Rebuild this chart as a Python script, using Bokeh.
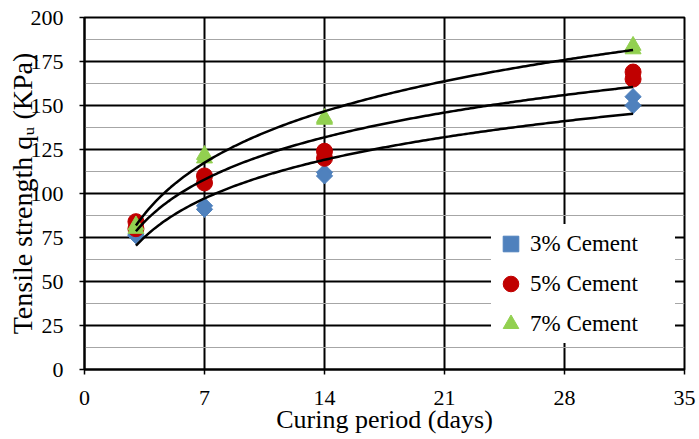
import numpy as np
from bokeh.plotting import figure
from bokeh.models import ColumnDataSource, Legend, LegendItem, FixedTicker
from bokeh.embed import file_html
from bokeh.resources import INLINE

# Data
days = [3, 3, 7, 7, 14, 14, 32, 32]
cement3 = [76, 77, 93, 91, 112, 110, 155, 150]
cement5 = [84, 80, 110, 106, 124, 120, 169, 165]
cement7 = [80, 82, 122, 120, 143, 142, 184, 182]
x_ticks = [0, 7, 14, 21, 28, 35]
y_ticks = [0, 25, 50, 75, 100, 125, 150, 175, 200]
x_title = "Curing period (days)"
y_title = "Tensile strength q\u1d64 (KPa)"

FONT = "Liberation Serif"

p = figure(width=696, height=438, output_backend="svg", toolbar_location=None,
           x_range=(0, 35), y_range=(0, 200),
           min_border_left=84, min_border_right=12, min_border_top=17, min_border_bottom=69)
p.outline_line_color = "black"
p.outline_line_width = 2
p.background_fill_color = "white"
p.border_fill_color = "white"

# grids
p.xgrid.ticker = FixedTicker(ticks=x_ticks)
p.xgrid.grid_line_color = "black"
p.xgrid.grid_line_width = 2
p.ygrid.ticker = FixedTicker(ticks=y_ticks, minor_ticks=[12.5 + 25 * i for i in range(8)])
p.ygrid.grid_line_color = "black"
p.ygrid.grid_line_width = 2
p.ygrid.minor_grid_line_color = "#a6a6a6"
p.ygrid.minor_grid_line_width = 1.2

for ax in (p.xaxis, p.yaxis):
    ax.axis_line_color = "black"
    ax.axis_line_width = 2
    ax.major_tick_line_color = "black"
    ax.major_tick_line_width = 1.5
    ax.major_tick_in = 0
    ax.major_tick_out = 5
    ax.minor_tick_line_color = None
    ax.major_label_text_font = FONT
    ax.major_label_text_font_size = "22px"
    ax.major_label_text_color = "black"
    ax.axis_label_text_font = FONT
    ax.axis_label_text_font_style = "normal"
    ax.axis_label_text_color = "black"

p.xaxis.ticker = FixedTicker(ticks=x_ticks)
p.yaxis.ticker = FixedTicker(ticks=y_ticks)
p.xaxis.major_label_standoff = 16
p.yaxis.major_label_standoff = 16
p.xaxis.axis_label = x_title
p.xaxis.axis_label_text_font_size = "26px"
p.xaxis.axis_label_standoff = -3
p.yaxis.axis_label = y_title
p.yaxis.axis_label_text_font_size = "28px"
p.yaxis.axis_label_standoff = -10

series = [
    (cement3, "#4F81BD", "square", 11.5, np.pi / 4, "3% Cement"),
    (cement5, "#C00000", "circle", 16, 0, "5% Cement"),
    (cement7, "#92D050", "triangle", 16, 0, "7% Cement"),
]

renderers = []
for ys, color, marker, size, ang, label in series:
    src = ColumnDataSource(dict(x=days, y=ys))
    r = p.scatter("x", "y", source=src, marker=marker, size=size, angle=ang,
                  fill_color=color, line_color=color)
    renderers.append((r, label))

# logarithmic trend lines fitted to the data
lx = np.log(np.array(days, dtype=float))
xs = np.linspace(min(days), max(days), 200)
for ys, color, marker, size, ang, label in series:
    a, b = np.polyfit(lx, np.array(ys, dtype=float), 1)
    p.line(xs, a * np.log(xs) + b, line_color="black", line_width=2.5)

legend = Legend(items=[LegendItem(label=l, renderers=[r]) for r, l in renderers],
                location=(407, 26))
legend.label_text_font = FONT
legend.label_text_font_size = "23px"
legend.label_text_color = "black"
legend.border_line_color = None
legend.background_fill_color = "white"
legend.background_fill_alpha = 1
legend.spacing = 1
legend.padding = 2
legend.margin = 0
legend.glyph_width = 39
legend.glyph_height = 39
legend.label_standoff = -10
legend.label_width = 145
p.add_layout(legend, "center")

open("out.html", "w").write(file_html(p, INLINE))
